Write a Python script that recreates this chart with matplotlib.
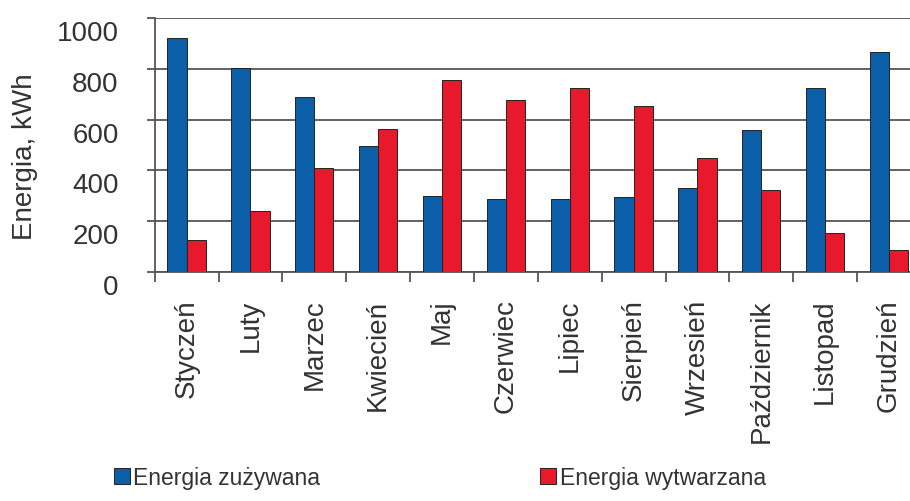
import numpy as np
import matplotlib
matplotlib.use("Agg")
import matplotlib.pyplot as plt
import matplotlib.transforms as mtransforms

plt.rcParams["font.family"] = ["Liberation Sans", "DejaVu Sans"]

months = ["Styczeń", "Luty", "Marzec", "Kwiecień", "Maj", "Czerwiec",
          "Lipiec", "Sierpień", "Wrzesień", "Październik", "Listopad", "Grudzień"]
consumed = [921, 803, 690, 497, 298, 287, 287, 296, 331, 560, 723, 865]
produced = [127, 241, 409, 563, 756, 678, 723, 655, 451, 323, 154, 88]
yticks = [0, 200, 400, 600, 800, 1000]

blue = "#0a5fa8"
red = "#e8192c"
text_col = "#333333"
grid_col = "#555555"

fig = plt.figure(figsize=(9.1, 5.02), dpi=100)
ax = fig.add_axes([0.170, 0.456, 0.842, 0.506])

x = np.arange(len(months))
w = 0.3
ax.bar(x - w / 2, consumed, w, color=blue, edgecolor="#222222", linewidth=0.7,
       label="Energia zużywana", zorder=3)
ax.bar(x + w / 2, produced, w, color=red, edgecolor="#222222", linewidth=0.7,
       label="Energia wytwarzana", zorder=3)

ax.set_xlim(-0.5, len(months) - 0.5)
ax.set_ylim(0, 1000)
ax.set_yticks(yticks)
ax.set_yticklabels([str(v) for v in yticks])
ax.yaxis.grid(True, color=grid_col, linewidth=1.3, zorder=0)

for s in ["top", "right"]:
    ax.spines[s].set_visible(False)
ax.spines["left"].set_color(grid_col)
ax.spines["bottom"].set_color(grid_col)
ax.spines["left"].set_linewidth(1.3)
ax.spines["bottom"].set_linewidth(1.3)

ax.set_xticks(x)
ax.set_xticklabels(months, rotation=90, fontsize=20, color=text_col)
ax.set_xticks(np.arange(len(months) + 1) - 0.5, minor=True)
ax.tick_params(axis="x", which="major", length=0, pad=19)
ax.tick_params(axis="x", which="minor", length=7, width=1.3, color=grid_col,
               direction="out")
ax.tick_params(axis="y", length=6, width=1.3, color=grid_col, direction="out",
               pad=20, labelsize=20, labelcolor=text_col)

offset = mtransforms.ScaledTranslation(0, -12 / 100, fig.dpi_scale_trans)
for lab in ax.get_yticklabels():
    lab.set_transform(lab.get_transform() + offset)

ax.set_ylabel("Energia, kWh", fontsize=20, color=text_col)
ax.yaxis.set_label_coords(-0.152, 0.46)

fig.legend(loc="center left", bbox_to_anchor=(0.125, 0.046), ncol=2,
           frameon=False, fontsize=16.5, handlelength=0.7, handleheight=0.7,
           handletextpad=0.15, columnspacing=9.6, labelcolor=text_col,
           borderpad=0, borderaxespad=0)

fig.savefig("out.png", dpi=100)
